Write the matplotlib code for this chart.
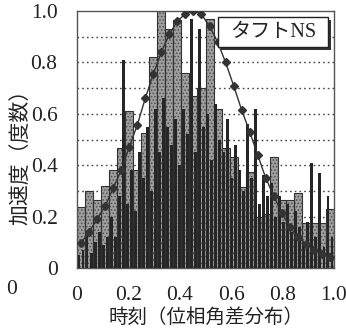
import numpy as np
import matplotlib
matplotlib.use("Agg")
import matplotlib.pyplot as plt
from matplotlib.patches import Rectangle

plt.rcParams['font.family'] = ['Liberation Serif', 'Noto Sans CJK JP']
plt.rcParams['hatch.linewidth'] = 0.7

# histogram of phase-difference (32 bins, gray)
hist_vals = [0.236, 0.30, 0.265, 0.32, 0.38, 0.466, 0.61, 0.38,
             0.525, 0.82, 1.0, 0.93, 0.965, 0.76, 0.67, 0.70,
             0.97, 0.62, 0.465, 0.43, 0.315, 0.375, 0.20, 0.21,
             0.43, 0.265, 0.265, 0.29, 0.175, 0.175, 0.175, 0.23]

# acceleration envelope (thin dark bars, 64 bins)
acc_vals = [0.05, 0.07, 0.13, 0.06, 0.10, 0.14, 0.09, 0.12,
            0.20, 0.12, 0.28, 0.81, 0.25, 0.38, 0.22, 0.45,
            0.35, 0.55, 0.30, 0.62, 0.45, 0.66, 0.55, 0.48,
            0.58, 0.40, 0.62, 0.52, 0.97, 0.45, 0.93, 0.55,
            0.60, 0.42, 0.64, 0.50, 0.45, 0.58, 0.35, 0.48,
            0.38, 0.30, 0.56, 0.35, 0.62, 0.25, 0.36, 0.28,
            0.33, 0.20, 0.28, 0.18, 0.25, 0.14, 0.22, 0.16,
            0.10, 0.18, 0.41, 0.12, 0.37, 0.08, 0.28, 0.12]

# fitted curve (diamonds, at histogram bin centres)
fit_vals = [0.097, 0.14, 0.19, 0.24, 0.31, 0.38, 0.47, 0.556,
            0.66, 0.755, 0.84, 0.91, 0.96, 0.99, 1.0, 0.988,
            0.94, 0.88, 0.80, 0.71, 0.615, 0.53, 0.44, 0.35,
            0.28, 0.214, 0.16, 0.12, 0.093, 0.07, 0.054, 0.044]

xticks = [0, 0.2, 0.4, 0.6, 0.8, 1.0]
xtick_labels = ['0', '0.2', '0.4', '0.6', '0.8', '1.0']
yticks = [0, 0.2, 0.4, 0.6, 0.8, 1.0]
ytick_labels = ['0', '0.2', '0.4', '0.6', '0.8', '1.0']

nh = len(hist_vals)
wh = 1.0 / nh
xh = (np.arange(nh) + 0.5) * wh
na = len(acc_vals)
wa = 1.0 / na
xa = (np.arange(na) + 0.5) * wa

fig = plt.figure(figsize=(3.46, 3.28), dpi=100)
ax = fig.add_axes([77/346, 60/328, 257/346, 257/328])

for g in np.arange(0.1, 0.95, 0.1):
    ax.axhline(g, color='#444444', lw=1.0, ls=(0, (1.2, 2.2)), zorder=0)

ax.bar(xh, hist_vals, width=wh, color='#9e9e9e', edgecolor='#505050',
       hatch='.....', lw=0, zorder=1)
ax.bar(xh, hist_vals, width=wh, fill=False, edgecolor='#333333', lw=0.8, zorder=2)
ax.bar(xa, acc_vals, width=wa * 0.72, color='#262626', lw=0, zorder=3)

ax.plot(xh, fit_vals, color='#333333', lw=1.0, marker='D', ms=3.8,
        mfc='#333333', mec='#333333', zorder=4)

ax.set_xlim(0, 1.0)
ax.set_ylim(0, 1.0)
ax.set_xticks(xticks)
ax.set_xticklabels(xtick_labels)
ax.set_yticks(yticks)
ax.set_yticklabels(ytick_labels)
ax.tick_params(length=0, labelsize=15.5, colors='#222222')
ax.tick_params(axis='x', pad=13)
ax.tick_params(axis='y', pad=14)
for s in ax.spines.values():
    s.set_color('#555555')
    s.set_linewidth(1.0)

ax.set_xlabel('時刻（位相角差分布）', fontsize=14, color='#222222',
              family=['Noto Sans CJK JP'], labelpad=1)
fig.text(20/346, 1 - 152/328, '加速度（度数）', rotation=90, fontsize=15,
         color='#222222', family=['Noto Sans CJK JP'], ha='center', va='center')
fig.text(12/346, 1 - 290/328, '0', fontsize=15.5, color='#222222',
         ha='center', va='center')

# label box with shadow
ax.add_patch(Rectangle((0.561, 0.848), 0.428, 0.117, transform=ax.transAxes,
                       facecolor='#333333', edgecolor='none', zorder=5))
ax.add_patch(Rectangle((0.549, 0.860), 0.428, 0.117, transform=ax.transAxes,
                       facecolor='white', edgecolor='#222222', lw=1.0, zorder=6))
ax.text(0.763, 0.918, 'タフトNS', transform=ax.transAxes, fontsize=14.5,
        color='#222222', ha='center', va='center', zorder=7)

fig.savefig('out.png', dpi=100)
